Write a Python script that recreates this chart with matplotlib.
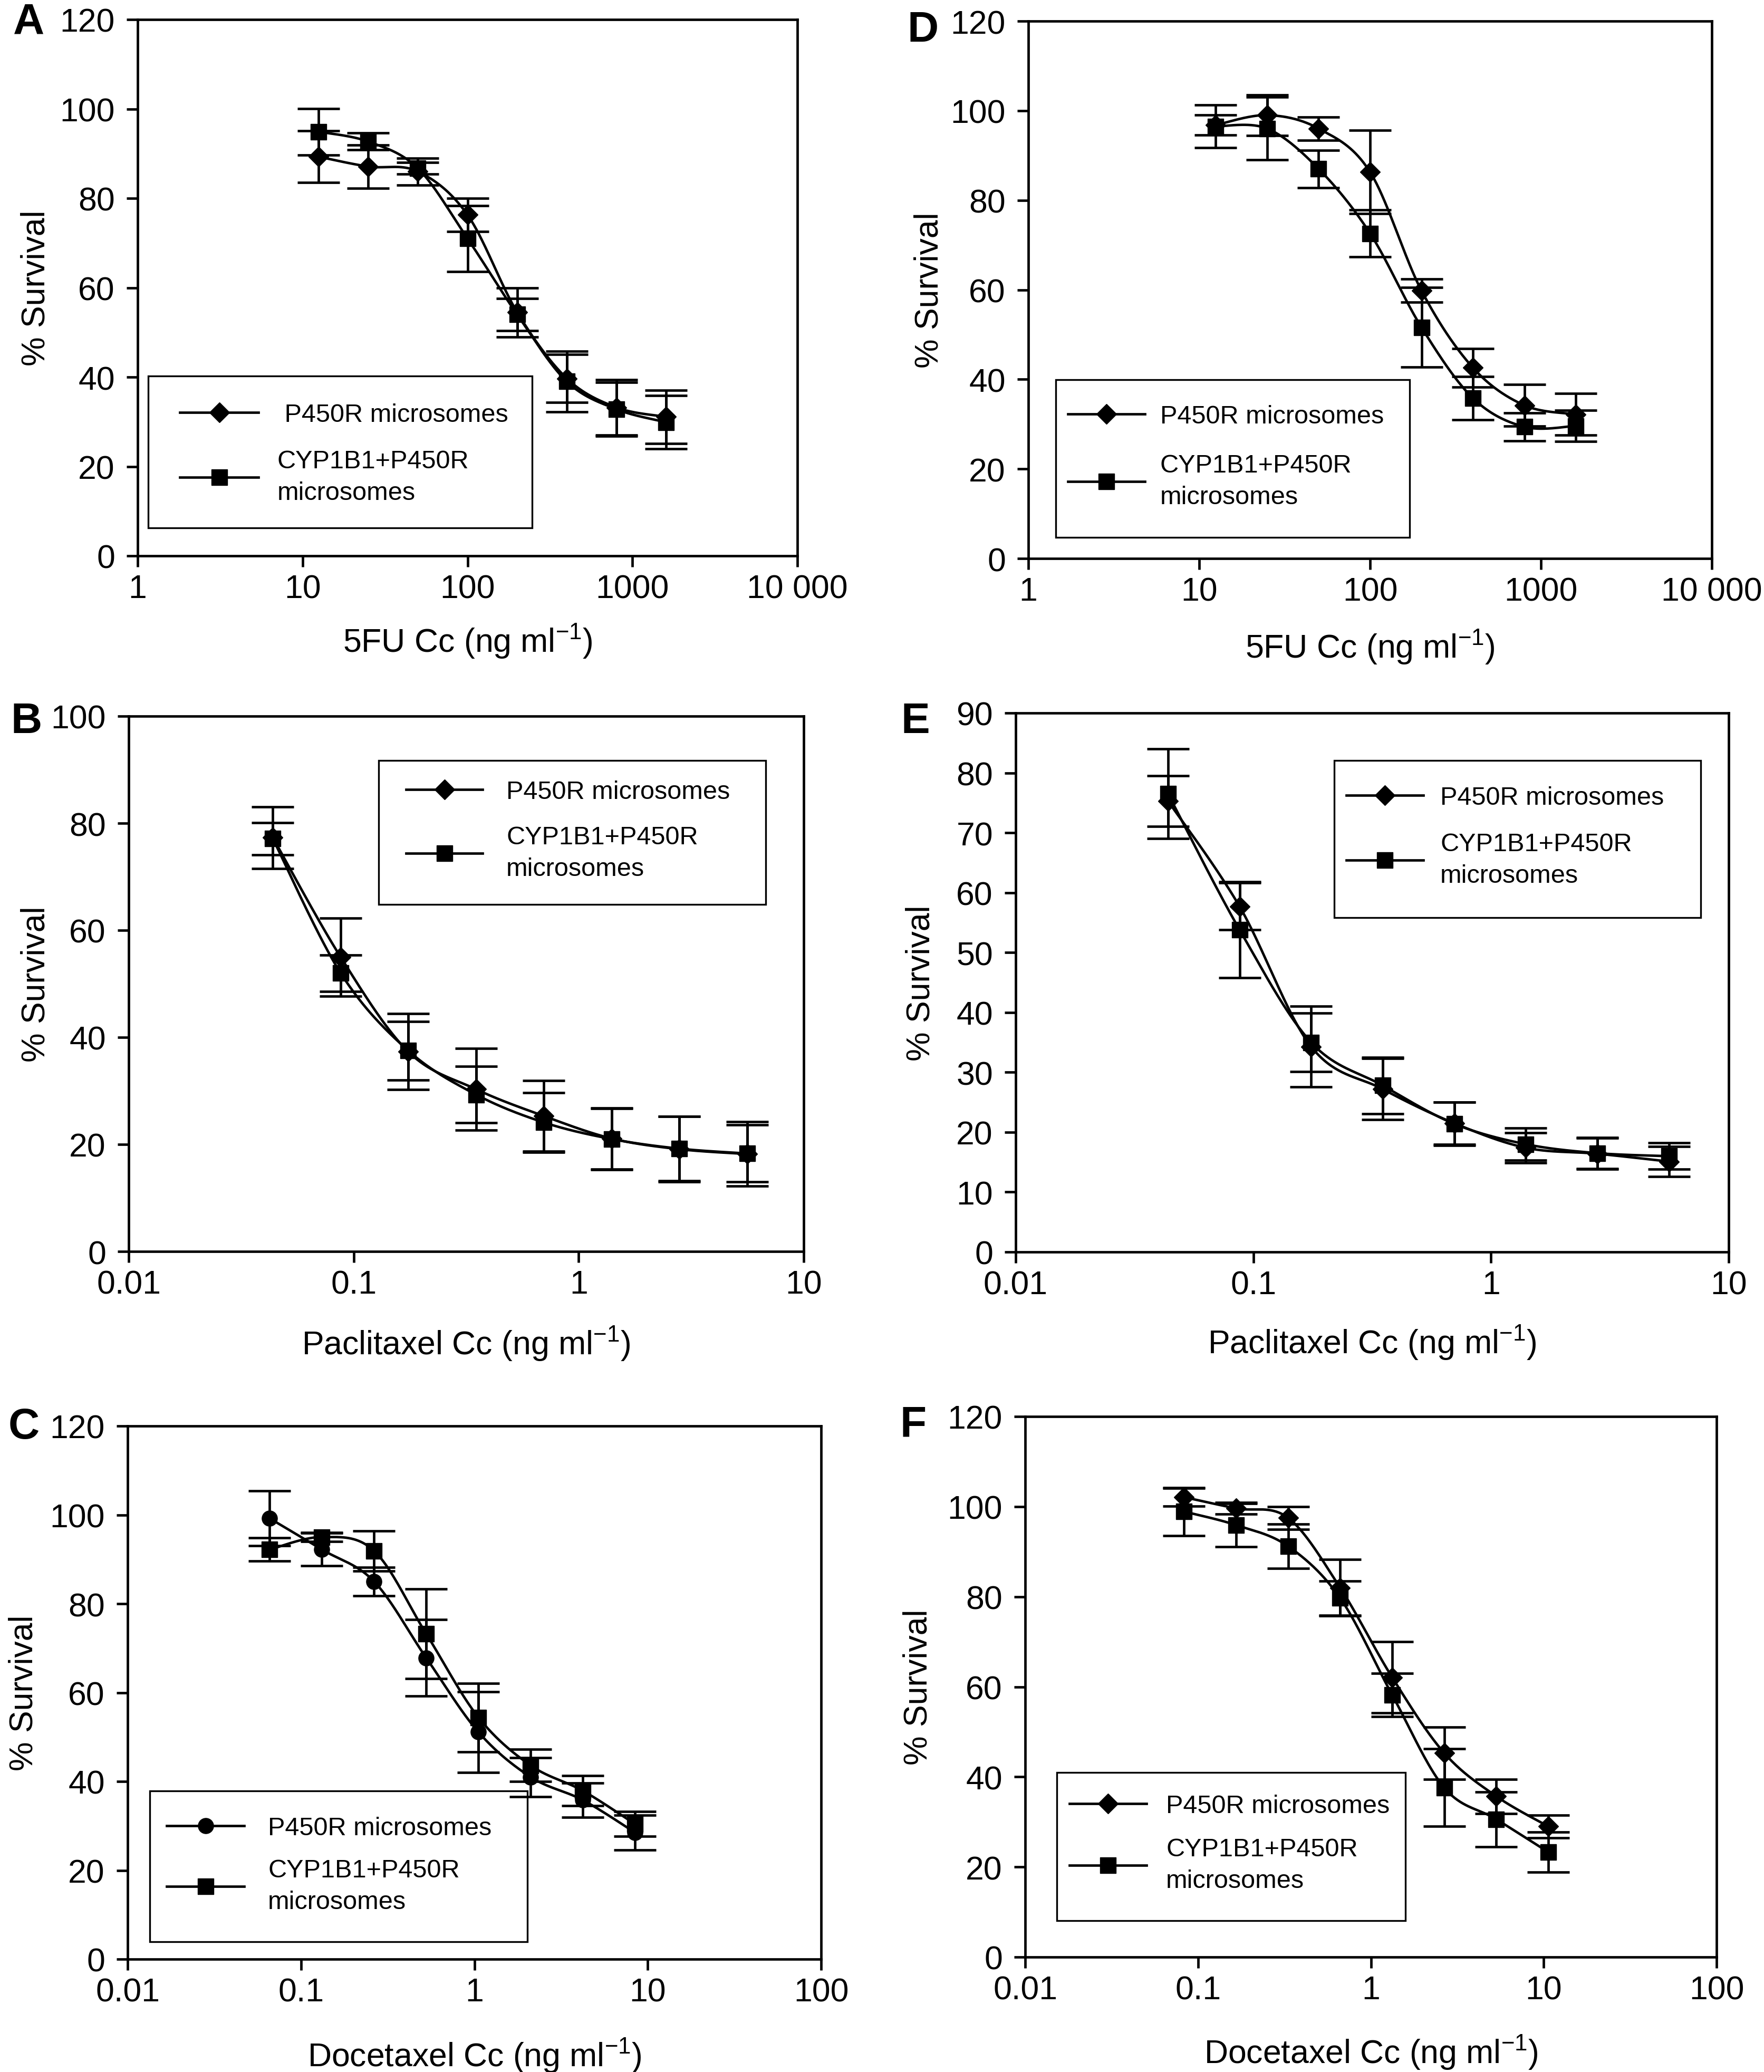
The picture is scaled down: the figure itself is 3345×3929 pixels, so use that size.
import numpy as np
import matplotlib
matplotlib.use("Agg")
import matplotlib.pyplot as plt
from matplotlib.lines import Line2D
from matplotlib.patches import Rectangle

# ---------------- data ----------------
x_5fu = [12.5, 25, 50, 100, 200, 400, 800, 1600]
x_pac = [0.04375, 0.0875, 0.175, 0.35, 0.7, 1.4, 2.8, 5.6]
x_doc_c = [0.066, 0.132, 0.264, 0.528, 1.056, 2.112, 4.224, 8.448]
x_doc_f = [0.083, 0.166, 0.332, 0.664, 1.328, 2.656, 5.312, 10.624]

a_p450 = [89.3, 87.1, 86.0, 76.3, 54.5, 39.7, 33.2, 31.1]
a_p450_err = [5.8, 4.8, 3.0, 3.7, 5.5, 5.4, 6.2, 6.0]
a_cyp = [94.9, 92.7, 86.7, 71.0, 54.0, 39.0, 32.8, 29.9]
a_cyp_err = [5.2, 1.9, 1.3, 7.4, 3.6, 6.8, 6.0, 6.0]

d_p450 = [96.8, 99.0, 96.0, 86.3, 59.8, 42.6, 34.2, 32.2]
d_p450_err = [2.2, 4.5, 2.6, 9.3, 2.6, 4.3, 4.7, 4.7]
d_cyp = [96.5, 96.0, 87.0, 72.6, 51.6, 35.8, 29.4, 29.6]
d_cyp_err = [4.8, 7.0, 4.2, 5.2, 8.9, 4.8, 3.1, 3.5]

b_p450 = [77.3, 55.0, 37.3, 30.3, 25.3, 21.1, 19.1, 18.2]
b_p450_err = [5.8, 7.3, 7.1, 7.6, 6.6, 5.7, 6.1, 6.0]
b_cyp = [77.1, 52.0, 37.5, 29.3, 24.1, 21.0, 19.2, 18.3]
b_cyp_err = [3.0, 3.4, 5.5, 5.3, 5.6, 5.7, 6.0, 5.3]

e_p450 = [75.3, 57.7, 34.3, 27.2, 21.5, 17.4, 16.4, 15.1]
e_p450_err = [4.2, 3.9, 6.7, 5.1, 3.5, 2.5, 2.6, 2.5]
e_cyp = [76.5, 53.8, 35.0, 27.8, 21.4, 18.0, 16.5, 16.0]
e_cyp_err = [7.5, 8.0, 4.9, 4.7, 3.6, 2.7, 2.6, 2.2]

c_p450 = [99.2, 92.2, 85.0, 67.8, 51.1, 41.0, 35.8, 28.5]
c_p450_err = [6.2, 3.7, 3.2, 8.6, 9.1, 4.4, 3.9, 3.9]
c_cyp = [92.2, 95.0, 91.9, 73.2, 54.4, 43.6, 37.9, 30.4]
c_cyp_err = [2.6, 1.0, 4.5, 10.1, 7.7, 3.6, 3.4, 2.8]

f_p450 = [102.1, 99.6, 97.5, 82.0, 62.1, 45.3, 35.7, 29.0]
f_p450_err = [2.0, 1.3, 2.5, 6.3, 7.9, 5.8, 3.8, 2.5]
f_cyp = [98.9, 95.9, 91.2, 79.7, 58.2, 37.6, 30.6, 23.3]
f_cyp_err = [5.3, 4.8, 4.9, 3.8, 4.8, 8.6, 6.1, 4.4]

label_p450 = "P450R microsomes"
label_cyp = "CYP1B1+P450R\nmicrosomes"

ticks_5fu = [1, 10, 100, 1000, 10000]
ticklabels_5fu = ["1", "10", "100", "1000", "10 000"]
ticks_pac = [0.01, 0.1, 1, 10]
ticklabels_pac = ["0.01", "0.1", "1", "10"]
ticks_doc = [0.01, 0.1, 1, 10, 100]
ticklabels_doc = ["0.01", "0.1", "1", "10", "100"]

xlabel_5fu = r"5FU Cc (ng ml$^{-1}$)"
xlabel_pac = r"Paclitaxel Cc (ng ml$^{-1}$)"
xlabel_doc = r"Docetaxel Cc (ng ml$^{-1}$)"
ylabel = "% Survival"

# ---------------- style ----------------
plt.rcParams["font.family"] = ["Liberation Sans", "DejaVu Sans"]
plt.rcParams["mathtext.fontset"] = "custom"
plt.rcParams["mathtext.rm"] = "Liberation Sans"
plt.rcParams["mathtext.it"] = "Liberation Sans:italic"
plt.rcParams["mathtext.bf"] = "Liberation Sans:bold"
plt.rcParams["mathtext.default"] = "regular"

W, H, DPI = 3345, 3930, 100
fig = plt.figure(figsize=(W / DPI, H / DPI), dpi=DPI)
fig.patch.set_facecolor("white")

LW = 3.4
TICK_FS = 45
LABEL_FS = 45
LEG_FS = 35
LEG_PX = LEG_FS * DPI / 72.0
LEG_LINESPACING = 1.42


def smooth(x, y, n=40):
    """Catmull-Rom smoothing (as in spreadsheet 'smoothed line') in log-x space."""
    lx = np.log10(np.asarray(x, float))
    yy = np.asarray(y, float)
    P = np.column_stack([lx, yy])
    P = np.vstack([P[0], P, P[-1]])
    t = np.linspace(0, 1, n)[:, None]
    segs = []
    for i in range(1, len(P) - 2):
        p0, p1, p2, p3 = P[i - 1], P[i], P[i + 1], P[i + 2]
        seg = 0.5 * ((2 * p1) + (-p0 + p2) * t + (2 * p0 - 5 * p1 + 4 * p2 - p3) * t ** 2
                     + (-p0 + 3 * p1 - 3 * p2 + p3) * t ** 3)
        segs.append(seg if i == 1 else seg[1:])
    S = np.vstack(segs)
    return 10 ** S[:, 0], S[:, 1]


panels = [
    dict(letter="A", ax=(261, 1512, 38, 1055), xlim=(1, 10000), ylim=(0, 120), yticks=range(0, 121, 20),
         xt=ticks_5fu, xtl=ticklabels_5fu, xlabel=xlabel_5fu,
         series=[(x_5fu, a_p450, a_p450_err, "D", " " + label_p450), (x_5fu, a_cyp, a_cyp_err, "s", label_cyp)],
         letter_pos=(25, 64), ylab_x=68, xlab_y=1236,
         box=(281, 1009, 714, 1002), hand=(341, 490), text_x=526, e1=792, e2=910),
    dict(letter="D", ax=(1950, 3246, 41, 1060), xlim=(1, 10000), ylim=(0, 120), yticks=range(0, 121, 20),
         xt=ticks_5fu, xtl=ticklabels_5fu, xlabel=xlabel_5fu,
         series=[(x_5fu, d_p450, d_p450_err, "D", label_p450), (x_5fu, d_cyp, d_cyp_err, "s", label_cyp)],
         letter_pos=(1720, 79), ylab_x=1762, xlab_y=1247,
         box=(2002, 2673, 721, 1020), hand=(2025, 2171), text_x=2200, e1=795, e2=918),
    dict(letter="B", ax=(244, 1524, 1359, 2374), xlim=(0.01, 10), ylim=(0, 100), yticks=range(0, 101, 20),
         xt=ticks_pac, xtl=ticklabels_pac, xlabel=xlabel_pac,
         series=[(x_pac, b_p450, b_p450_err, "D", label_p450), (x_pac, b_cyp, b_cyp_err, "s", label_cyp)],
         letter_pos=(20, 1390), ylab_x=68, xlab_y=2568,
         box=(718, 1452, 1443, 1716), hand=(770, 915), text_x=960, e1=1507, e2=1623),
    dict(letter="E", ax=(1926, 3278, 1353, 2375), xlim=(0.01, 10), ylim=(0, 90), yticks=range(0, 91, 10),
         xt=ticks_pac, xtl=ticklabels_pac, xlabel=xlabel_pac,
         series=[(x_pac, e_p450, e_p450_err, "D", label_p450), (x_pac, e_cyp, e_cyp_err, "s", label_cyp)],
         letter_pos=(1708, 1390), ylab_x=1746, xlab_y=2566,
         box=(2530, 3225, 1443, 1741), hand=(2553, 2699), text_x=2731, e1=1518, e2=1636),
    dict(letter="C", ax=(242, 1557, 2705, 3716), xlim=(0.01, 100), ylim=(0, 120), yticks=range(0, 121, 20),
         xt=ticks_doc, xtl=ticklabels_doc, xlabel=xlabel_doc,
         series=[(x_doc_c, c_p450, c_p450_err, "o", label_p450), (x_doc_c, c_cyp, c_cyp_err, "s", label_cyp)],
         letter_pos=(16, 2728), ylab_x=45, xlab_y=3918,
         box=(284, 1000, 3397, 3683), hand=(316, 463), text_x=508, e1=3472, e2=3582),
    dict(letter="F", ax=(1944, 3255, 2687, 3712), xlim=(0.01, 100), ylim=(0, 120), yticks=range(0, 121, 20),
         xt=ticks_doc, xtl=ticklabels_doc, xlabel=xlabel_doc,
         series=[(x_doc_f, f_p450, f_p450_err, "D", label_p450), (x_doc_f, f_cyp, f_cyp_err, "s", label_cyp)],
         letter_pos=(1706, 2725), ylab_x=1741, xlab_y=3912,
         box=(2004, 2665, 3362, 3643), hand=(2028, 2174), text_x=2211, e1=3430, e2=3542),
]

MS = {"D": 19, "s": 21, "o": 21}

for p in panels:
    l, r, t, b = p["ax"]
    ax = fig.add_axes([l / W, 1 - b / H, (r - l) / W, (b - t) / H])
    ax.set_xscale("log")
    ax.set_xlim(*p["xlim"])
    ax.set_ylim(*p["ylim"])
    ax.set_xticks(p["xt"])
    ax.set_xticklabels(p["xtl"])
    ax.xaxis.set_minor_locator(matplotlib.ticker.NullLocator())
    ax.set_yticks(list(p["yticks"]))
    ax.tick_params(axis="both", which="major", direction="out", length=15, width=LW,
                   labelsize=TICK_FS, color="black", top=False, right=False)
    ax.tick_params(axis="y", pad=16)
    ax.tick_params(axis="x", pad=9)
    for s in ax.spines.values():
        s.set_linewidth(LW)
        s.set_color("black")

    handles, labels = [], []
    for (xs, ys, es, mk, lab) in p["series"]:
        ax.errorbar(xs, ys, yerr=es, fmt="none", ecolor="black", elinewidth=LW,
                    capsize=29, capthick=LW, zorder=2)
        sx, sy = smooth(xs, ys)
        ax.plot(sx, sy, color="black", lw=LW, zorder=3, solid_capstyle="round")
        ax.plot(xs, ys, ls="none", marker=mk, ms=MS[mk], mfc="black", mec="black", zorder=4)
        handles.append(Line2D([], [], color="black", lw=LW, marker=mk, ms=MS[mk], mfc="black", mec="black"))
        labels.append(lab)

    # axis labels
    ax.set_xlabel(p["xlabel"], fontsize=LABEL_FS)
    ax.xaxis.label.set_va("baseline")
    ax.xaxis.set_label_coords(0.5, (b - p["xlab_y"]) / (b - t))
    ax.set_ylabel(ylabel, fontsize=LABEL_FS)
    ax.yaxis.label.set_va("center")
    ax.yaxis.set_label_coords((p["ylab_x"] - l) / (r - l), 0.5)

    # panel letter
    lx, ly = p["letter_pos"]
    fig.text(lx / W, 1 - ly / H, p["letter"], fontsize=59, fontweight="bold",
             ha="left", va="baseline")

    # legend box
    bx0, bx1, by0, by1 = p["box"]
    fig.add_artist(Rectangle((bx0 / W, 1 - by1 / H), (bx1 - bx0) / W, (by1 - by0) / H,
                             transform=fig.transFigure, facecolor="none", edgecolor="black",
                             linewidth=2.4))
    h0, h1 = p["hand"]
    one_line = 1.12 * LEG_PX
    line_gap = 60.0
    two_line = one_line + line_gap
    sep = (p["e2"] - p["e1"]) - one_line / 2 - two_line / 2 + 10
    leg = fig.legend(handles, labels, loc="upper left",
                     bbox_to_anchor=(h0 / W, 1 - (p["e1"] - one_line / 2) / H),
                     bbox_transform=fig.transFigure, frameon=False, borderpad=0,
                     borderaxespad=0, fontsize=LEG_FS,
                     handlelength=(h1 - h0) / LEG_PX,
                     handletextpad=(p["text_x"] - h1) / LEG_PX,
                     labelspacing=max(sep, 0) / LEG_PX, numpoints=1)
    for txt in leg.get_texts():
        txt.set_linespacing(LEG_LINESPACING)

fig.savefig("out.png", dpi=DPI, facecolor="white")
